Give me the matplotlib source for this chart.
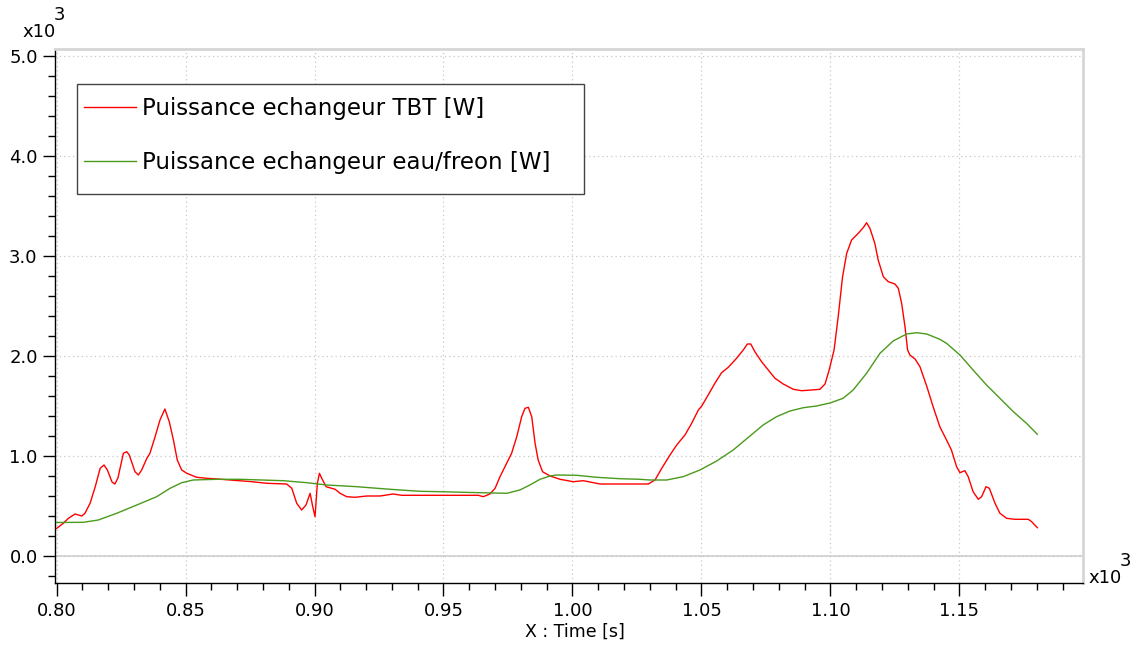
import matplotlib
matplotlib.use("Agg")
import matplotlib.pyplot as plt
from matplotlib.patches import Rectangle
from matplotlib.ticker import MultipleLocator, FormatStrFormatter
import numpy as np

# Puissance echangeur TBT [W]
t_tbt = [800.0, 802.6, 804.6, 807.2, 808.5, 809.8, 811.0, 813.0, 815.0, 816.9,
         818.4, 819.7, 821.5, 822.6, 823.8, 825.9, 827.2, 828.2, 830.4, 831.7,
         833.0, 835.0, 836.2, 838.2, 840.1, 842.0, 843.7, 845.3, 846.8, 848.5,
         850.5, 854.3, 858.2, 860.8, 867.2, 871.1, 875.7, 881.5, 889.2, 891.2,
         893.1, 895.0, 896.7, 898.3, 899.3, 900.2, 901.1, 901.9, 902.8, 904.5,
         908.0, 909.9, 912.5, 915.7, 920.2, 925.4, 930.5, 933.8, 948.6, 963.5,
         965.4, 968.0, 970.0, 971.9, 974.5, 976.4, 978.4, 980.3, 981.6, 982.9,
         984.2, 985.5, 986.7, 988.4, 991.3, 995.2, 1000.3, 1004.2, 1010.7, 1026.2,
         1029.4, 1032.0, 1034.6, 1037.8, 1040.4, 1043.6, 1046.2, 1048.8, 1050.1, 1052.6,
         1055.2, 1057.8, 1060.4, 1063.6, 1066.2, 1067.8, 1069.1, 1070.7, 1073.3, 1075.9,
         1078.5, 1081.7, 1085.6, 1088.8, 1092.7, 1095.9, 1097.9, 1099.5, 1101.4, 1103.0,
         1104.7, 1106.3, 1108.2, 1110.8, 1113.0, 1114.0, 1115.3, 1117.2, 1118.5, 1120.5,
         1122.4, 1125.0, 1126.3, 1127.6, 1128.9, 1129.9, 1130.8, 1132.8, 1134.7, 1137.3,
         1139.8, 1142.4, 1145.0, 1146.9, 1148.9, 1150.2, 1152.1, 1153.4, 1155.3, 1157.3,
         1158.6, 1160.3, 1161.6, 1163.8, 1165.7, 1168.3, 1171.5, 1176.7, 1178.0, 1180.2]
p_tbt = [275, 327, 377, 420, 410, 400, 427, 527, 693, 877,
         910, 860, 740, 720, 780, 1027, 1043, 1010, 843, 810,
         860, 977, 1027, 1193, 1360, 1470, 1343, 1160, 960, 860,
         827, 787, 777, 773, 760, 753, 743, 727, 720, 677,
         527, 460, 510, 627, 493, 393, 727, 827, 777, 693,
         667, 627, 593, 587, 600, 600, 620, 607, 607, 607,
         593, 620, 677, 793, 927, 1027, 1193, 1393, 1477, 1487,
         1393, 1127, 960, 843, 800, 767, 743, 753, 720, 720,
         720, 760, 877, 1010, 1110, 1210, 1327, 1460, 1500, 1610,
         1727, 1833, 1887, 1977, 2060, 2120, 2120, 2043, 1943, 1860,
         1777, 1720, 1667, 1653, 1660, 1667, 1720, 1860, 2060, 2393,
         2793, 3027, 3160, 3227, 3293, 3333, 3277, 3127, 2960, 2793,
         2743, 2720, 2677, 2527, 2293, 2060, 2010, 1970, 1893, 1700,
         1493, 1293, 1160, 1060, 893, 833, 853, 793, 643, 567,
         593, 693, 677, 527, 427, 377, 367, 367, 343, 283]

# Puissance echangeur eau/freon [W]
t_eau = [800.0, 810.4, 816.2, 823.3, 831.1, 838.8, 844.0, 848.5, 853.0, 862.1,
         871.1, 887.9, 897.0, 904.7, 916.4, 929.3, 940.9, 948.6, 964.1, 974.5,
         979.6, 983.5, 987.4, 991.3, 993.9, 1001.6, 1009.4, 1018.4, 1026.2, 1030.0,
         1036.5, 1042.9, 1049.4, 1055.9, 1062.3, 1068.8, 1073.9, 1079.1, 1084.3, 1089.5,
         1094.6, 1099.8, 1104.9, 1108.8, 1114.0, 1119.2, 1124.3, 1129.5, 1133.4, 1137.3,
         1142.4, 1145.0, 1150.2, 1155.3, 1160.5, 1165.7, 1170.9, 1176.0, 1180.2]
p_eau = [335, 337, 360, 427, 510, 593, 677, 733, 760, 767,
         767, 753, 733, 710, 693, 667, 647, 643, 633, 627,
         660, 710, 767, 800, 810, 807, 787, 773, 767, 760,
         760, 793, 860, 950, 1060, 1200, 1310, 1393, 1450, 1483,
         1500, 1530, 1577, 1660, 1827, 2027, 2150, 2220, 2233, 2220,
         2167, 2127, 2010, 1860, 1710, 1577, 1443, 1327, 1217]

labels = ["Puissance echangeur TBT [W]", "Puissance echangeur eau/freon [W]"]

plt.rcParams['font.family'] = ['DejaVu Sans']

W, H = 1136, 645
fig = plt.figure(figsize=(W / 100, H / 100), dpi=100)
ax = fig.add_axes([55 / W, 1 - 583 / H, 1028 / W, 534 / H])

# values shown in units of 10^3
ax.plot(np.array(t_tbt) / 1000, np.array(p_tbt) / 1000, color='#ff0000', lw=1.0, label=labels[0], zorder=3)
ax.plot(np.array(t_eau) / 1000, np.array(p_eau) / 1000, color='#4a9a1c', lw=1.0, label=labels[1], zorder=3)

ax.set_xlim(0.7994, 1.1979)
ax.set_ylim(-0.27, 5.07)

ax.xaxis.set_major_locator(MultipleLocator(0.05))
ax.xaxis.set_minor_locator(MultipleLocator(0.01))
ax.yaxis.set_major_locator(MultipleLocator(1.0))
ax.yaxis.set_minor_locator(MultipleLocator(0.2))
ax.xaxis.set_major_formatter(FormatStrFormatter('%.2f'))
ax.yaxis.set_major_formatter(FormatStrFormatter('%.1f'))
ax.tick_params(which='major', length=9, width=1, direction='out', labelsize=13, colors='black')
ax.tick_params(which='minor', length=5, width=1, direction='out')
ax.tick_params(axis='x', which='major', pad=5)

ax.grid(True, which='major', color='#c8c8c8', linestyle=(0, (1, 2.5)), lw=0.9, zorder=0)
ax.axhline(0, color='#cfcfcf', lw=1.2, zorder=1)

for s in ('left', 'bottom'):
    ax.spines[s].set_color('black')
    ax.spines[s].set_linewidth(1.0)
for s in ('top', 'right'):
    ax.spines[s].set_color('#d6d6d6')
    ax.spines[s].set_linewidth(2.0)

ax.set_xlabel("X : Time [s]", fontsize=12.5)
ax.xaxis.set_label_coords(0.506, -0.075)

# legend entries without frame, box drawn separately
leg = ax.legend(loc='upper left', bbox_to_anchor=(29 / 1028, 486 / 534),
                borderaxespad=0, borderpad=0, fontsize=16.5, handlelength=2.25,
                handletextpad=0.27, labelspacing=1.37, frameon=False)
ax.add_patch(Rectangle((22 / 1028, 389 / 534), 507 / 1028, 110 / 534,
                       transform=ax.transAxes, facecolor='white', edgecolor='#444444',
                       lw=1.0, zorder=4))
leg.set_zorder(5)

# exponent markers
fig.text(22 / W, 1 - 37 / H, "x10", fontsize=13, ha='left', va='baseline')
fig.text(54 / W, 1 - 20 / H, "3", fontsize=13, ha='left', va='baseline')
fig.text(1088 / W, 1 - 583 / H, "x10", fontsize=13, ha='left', va='baseline')
fig.text(1120 / W, 1 - 566 / H, "3", fontsize=13, ha='left', va='baseline')

fig.savefig('out.png', dpi=100)
